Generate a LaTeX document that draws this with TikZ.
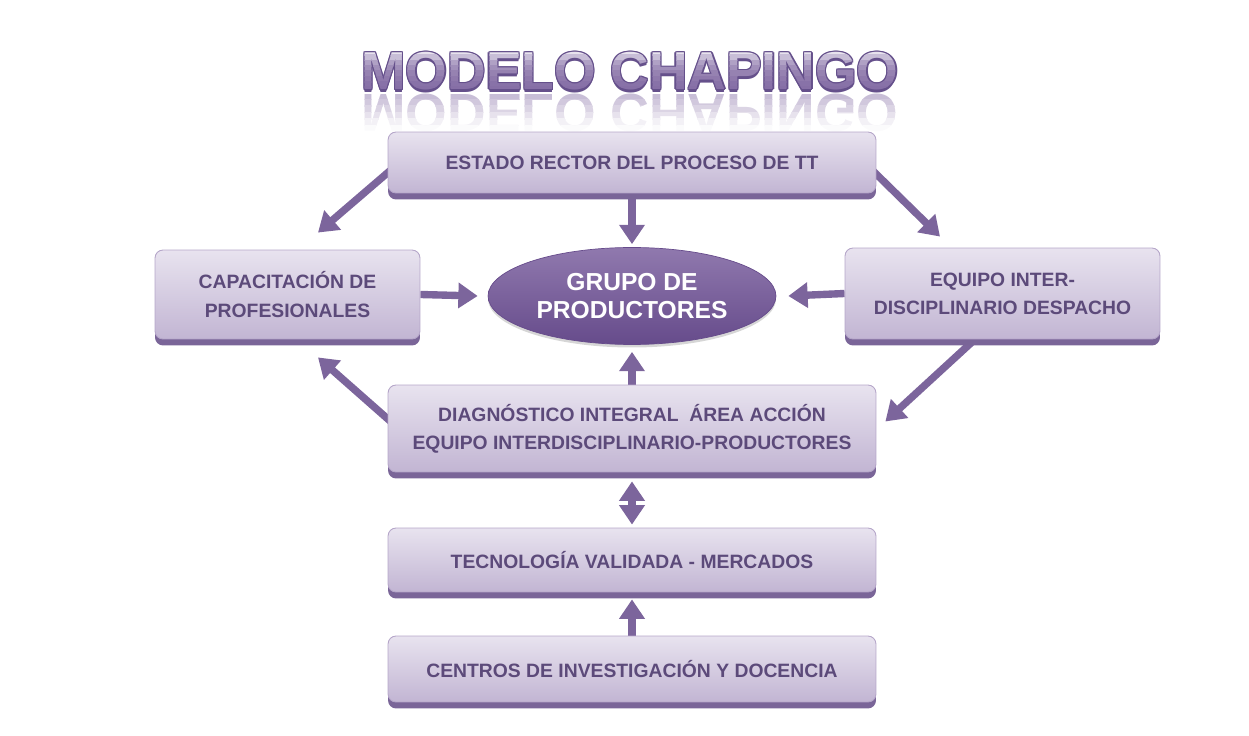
\documentclass[tikz,border=0pt]{standalone}
\usepackage{fontspec}
\setmainfont{Liberation Sans}
\newfontfamily\fuentetitulo{Liberation Sans}
\usepackage{graphicx}
\usetikzlibrary{calc,arrows.meta,shapes.geometric,shadows,backgrounds}

\definecolor{textpurple}{HTML}{5C4A7A}
\definecolor{arrowpurple}{HTML}{7C659C}
\definecolor{boxtop}{HTML}{E8E3EF}
\definecolor{boxbot}{HTML}{C2B5D3}
\definecolor{boxedge}{HTML}{B5A6C9}
\definecolor{bandpurple}{HTML}{7A6598}
\definecolor{grupotop}{HTML}{9079AE}
\definecolor{grupobot}{HTML}{664B8B}
\definecolor{titledark}{HTML}{65508B}
\definecolor{titlefill}{HTML}{866FA6}

\newcommand{\letratitulo}{\fuentetitulo\bfseries\fontsize{30.4}{36}\selectfont}

\tikzset{
  caja/.style={rectangle, rounded corners=0.16cm, top color=boxtop, bottom color=boxbot, draw=boxedge, line width=0.5pt, text=textpurple, align=center, font=\fontsize{11}{16}\selectfont\bfseries, inner sep=0pt, drop shadow={shadow xshift=0pt, shadow yshift=-0.13cm, fill=bandpurple, opacity=1}},
  ovalo/.style={ellipse, inner sep=0pt, top color=grupotop, bottom color=grupobot, draw=grupobot, text=white, align=center, font=\fontsize{14}{15.5}\selectfont\bfseries, drop shadow={shadow xshift=0pt, shadow yshift=-0.06cm, fill=black!40, opacity=0.4}},
  letrero/.style={font=\letratitulo, inner sep=0pt},
  flecha/.style={draw=arrowpurple, line width=4.2pt, -{Triangle[width=14pt,length=11pt]}},
  dobleflecha/.style={flecha, {Triangle[width=14pt,length=11pt]}-{Triangle[width=14pt,length=11pt]}}
}

\begin{document}
\begin{tikzpicture}[x=0.02cm, y=-0.02cm]
\useasboundingbox (0,0) rectangle (1249,736);
\coordinate (titulo) at (630,71.5);
\coordinate (reflejo) at (630,113);
\foreach \k/\pc [evaluate=\k as \ya using 93+6.5*\k] in {0/55,1/62,2/70,3/80,4/90,5/97}
{
\begin{scope}
\clip (300,\ya-0.3) rectangle (960,\ya+6.8);
\node[letrero, text=white!\pc!titlefill] at (reflejo) {\scalebox{1}[-1]{MODELO CHAPINGO}};
\end{scope}
}
\foreach \dx/\dy in {-1.3/0,1.3/0,0/-1.3,0/1.3,-1/-1,1/-1,-1/1,1/1,0/2.6}
  \node[letrero, text=titledark] at ($(titulo)+(\dx,\dy)$) {MODELO CHAPINGO};
\foreach \k/\pc [evaluate=\k as \ya using 50+5.3*\k] in {0/80,1/55,2/35,3/22,4/13,5/7,6/2,7/0}
{
\begin{scope}
\clip (300,\ya-0.3) rectangle (960,\ya+5.6);
\node[letrero, text=white!\pc!titlefill] at (titulo) {MODELO CHAPINGO};
\end{scope}
}

\node[caja, minimum width=9.76cm, minimum height=1.22cm] (estado) at (632,162.5) {ESTADO RECTOR DEL PROCESO DE TT};
\node[caja, minimum width=5.3cm, minimum height=1.78cm] (capac) at (287.5,294.5) {CAPACITACIÓN DE\\PROFESIONALES};
\node[ovalo, minimum width=5.76cm, minimum height=1.94cm] (grupo) at (632,296) {GRUPO DE\\PRODUCTORES};
\node[caja, minimum width=6.3cm, minimum height=1.82cm] (equipo) at (1002.5,293.5) {EQUIPO INTER-\\DISCIPLINARIO DESPACHO};
\node[caja, minimum width=9.76cm, minimum height=1.74cm] (diag) at (632,428.5) {DIAGNÓSTICO INTEGRAL \ ÁREA ACCIÓN\\EQUIPO INTERDISCIPLINARIO-PRODUCTORES};
\node[caja, minimum width=9.76cm, minimum height=1.28cm] (tecno) at (632,560) {TECNOLOGÍA VALIDADA - MERCADOS};
\node[caja, minimum width=9.76cm, minimum height=1.32cm] (centros) at (632,669) {CENTROS DE INVESTIGACIÓN Y DOCENCIA};

\begin{scope}[on background layer]
\draw[flecha] ([xshift=0.24cm]estado.west) -- ([xshift=0.61cm,yshift=0.34cm]capac.north);
\draw[flecha] (estado.south) -- ([yshift=0.06cm]grupo.north);
\draw[flecha] ([xshift=-0.24cm]estado.east) -- ([xshift=-1.25cm,yshift=0.22cm]equipo.north);
\draw[flecha] (capac.east) -- ([xshift=-0.2cm]grupo.west);
\draw[flecha] (equipo.west) -- ([xshift=0.24cm]grupo.east);
\draw[flecha] (diag.north) -- ([yshift=-0.14cm]grupo.south);
\draw[flecha] ([xshift=0.22cm]diag.west) -- ([xshift=0.61cm,yshift=-0.36cm]capac.south);
\draw[flecha] ([xshift=-0.51cm,yshift=0.04cm]equipo.south) -- ([xshift=0.18cm,yshift=0.14cm]diag.east);
\draw[dobleflecha] ([yshift=-0.18cm]diag.south) -- ([yshift=0.06cm]tecno.north);
\draw[flecha] (centros.north) -- ([yshift=-0.14cm]tecno.south);
\end{scope}
\end{tikzpicture}
\end{document}
